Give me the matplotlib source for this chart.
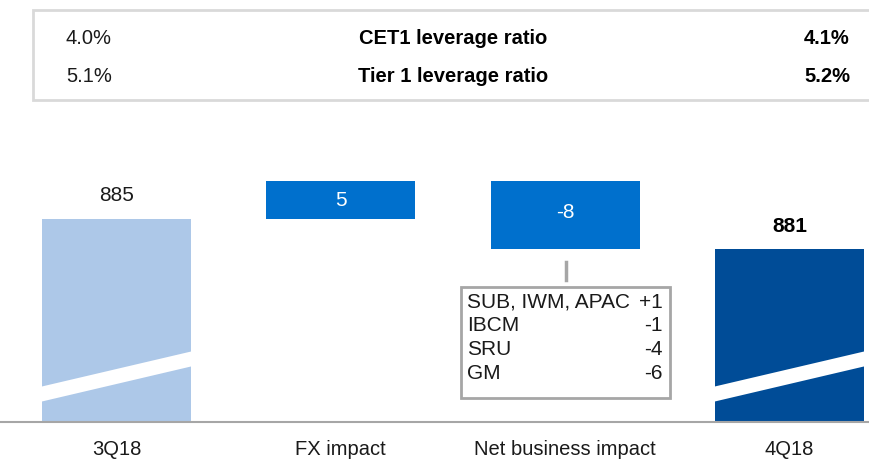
import matplotlib.pyplot as plt
from matplotlib.patches import Rectangle, Polygon
import matplotlib.transforms as mtransforms

plt.rcParams['font.family'] = ['Liberation Sans', 'DejaVu Sans']

# Data
categories = ['3Q18', 'FX impact', 'Net business impact', '4Q18']
start_value = 885
fx_impact = 5
net_business = -8
end_value = 881

ratio_names = ['CET1 leverage ratio', 'Tier 1 leverage ratio']
ratio_prev = ['4.0%', '5.1%']
ratio_curr = ['4.1%', '5.2%']

breakdown_names = ['SUB, IWM, APAC', 'IBCM', 'SRU', 'GM']
breakdown_values = ['+1', '-1', '-4', '-6']

# Colors
c_start = '#adc8e8'
c_delta = '#0070cd'
c_end = '#004c97'
c_grey = '#a6a6a6'

fig = plt.figure(figsize=(8.7, 4.59), dpi=100)
H = 459.0

# Axes: baseline at y=422px, top at y=150px
ax = fig.add_axes([0, 1 - 422 / H, 1, 272 / H])
ymin = 858.3
ax.set_ylim(ymin, ymin + 272 / 7.6)
ax.set_xlim(-116.5 / 224.3, (870 - 116.5) / 224.3)
width = 149 / 224.3

# Waterfall bars
fx_top = start_value + fx_impact
ax.bar(0, start_value - ymin, bottom=ymin, width=width, color=c_start)
ax.bar(1, fx_impact, bottom=start_value, width=width, color=c_delta)
ax.bar(2, end_value - fx_top, bottom=fx_top, width=width, color=c_delta)
ax.bar(3, end_value - ymin, bottom=ymin, width=width, color=c_end)

# Axis break stripes on the total bars
trans = mtransforms.blended_transform_factory(ax.transData, ax.transAxes)
for i in (0, 3):
    x0, x1 = i - width / 2 - 0.01, i + width / 2 + 0.01
    stripe = Polygon([(x0, 0.0735), (x1, 0.206), (x1, 0.261), (x0, 0.1287)],
                     closed=True, facecolor='white', edgecolor='none',
                     transform=trans, zorder=3)
    ax.add_patch(stripe)

# Value labels
ax.text(0, start_value + 1.8, f'{start_value}', ha='center', va='bottom',
        fontsize=15, color='#1a1a1a')
ax.text(1, start_value + fx_impact / 2, f'{fx_impact}', ha='center',
        va='center', fontsize=15, color='white')
ax.text(2, (fx_top + end_value) / 2 + 0.35, f'{net_business}', ha='center',
        va='center', fontsize=15, color='white')
ax.text(3, end_value + 1.8, f'{end_value}', ha='center', va='bottom',
        fontsize=15, fontweight='bold', color='black')

# Clean axes
for s in ax.spines.values():
    s.set_visible(False)
ax.set_yticks([])
ax.set_xticks([])
ax.axhline(ymin, color=c_grey, lw=1.5, zorder=4, clip_on=False)

# Category labels
for i, cat in enumerate(categories):
    ax.text(i, -0.068, cat, transform=trans, ha='center', va='top',
            fontsize=14.5, color='#1a1a1a')

# Connector line and breakdown box (pixel coordinates -> figure fraction)
fig.add_artist(plt.Line2D([566 / 870, 566 / 870], [1 - 280 / H, 1 - 262 / H],
                          color=c_grey, lw=2.5))
fig.add_artist(Rectangle((461 / 870, 1 - 398 / H), 209 / 870, 111 / H,
                         facecolor='white', edgecolor=c_grey, lw=2,
                         transform=fig.transFigure))
for k, (name, val) in enumerate(zip(breakdown_names, breakdown_values)):
    yy = 1 - (302 + k * 23.8) / H
    fig.text(467 / 870, yy, name, ha='left', va='center', fontsize=15,
             color='#1a1a1a')
    fig.text(663 / 870, yy, val, ha='right', va='center', fontsize=15,
             color='#1a1a1a')

# Top ratio table
fig.add_artist(Rectangle((33 / 870, 1 - 100 / H), 840 / 870, 90 / H,
                         facecolor='white', edgecolor='#d9d9d9', lw=2,
                         transform=fig.transFigure))
for k in range(len(ratio_names)):
    yy = 1 - (38 + k * 39) / H
    fig.text(66 / 870, yy, ratio_prev[k], ha='left', va='center',
             fontsize=14.5, color='#1a1a1a')
    fig.text(453 / 870, yy, ratio_names[k], ha='center', va='center',
             fontsize=14.5, fontweight='bold', color='black')
    fig.text(850 / 870, yy, ratio_curr[k], ha='right', va='center',
             fontsize=14.5, fontweight='bold', color='black')

plt.savefig('out.png', dpi=100)
